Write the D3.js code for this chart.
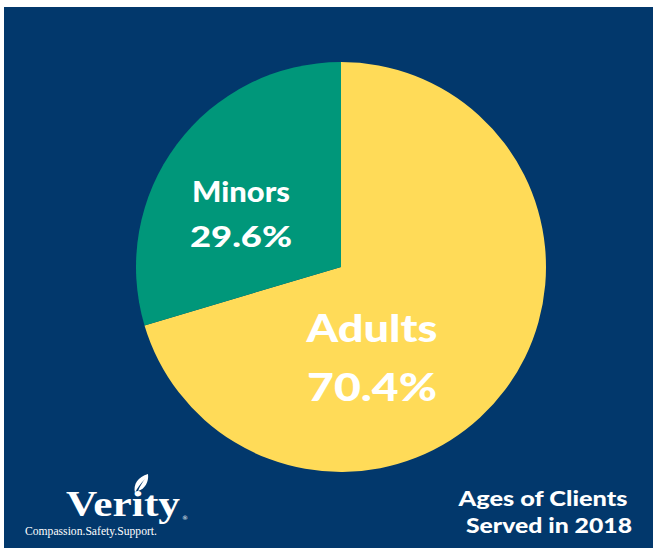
<!DOCTYPE html>
<html lang="en">
<head>
    <meta charset="UTF-8">
    <title>Ages of Clients Served in 2018</title>
    <script src="https://cdnjs.cloudflare.com/ajax/libs/d3/7.8.5/d3.min.js"></script>
    <style>
        html, body { margin: 0; padding: 0; background: #fff; }
        svg { display: block; }
    </style>
</head>
<body>
<svg id="chart" width="654" height="552"></svg>
<script>
    // Data
    const categories = ["Adults", "Minors"];
    const shares = [70.4, 29.6];
    const sliceColors = ["#ffdb58", "#00977a"];
    const titleLines = ["Ages of Clients", "Served in 2018"];

    const width = 654, height = 552;
    const svg = d3.select("#chart");

    // Background panel (thin white frame around)
    svg.append("rect")
        .attr("x", 4).attr("y", 7)
        .attr("width", width - 5).attr("height", height - 11)
        .attr("fill", "#02386c");

    const cx = 341, cy = 267, radius = 205;
    const data = categories.map((c, i) => ({ name: c, value: shares[i], color: sliceColors[i] }));

    const pie = d3.pie().value(d => d.value).sort(null);
    const arc = d3.arc().innerRadius(0).outerRadius(radius);

    const g = svg.append("g").attr("transform", `translate(${cx},${cy})`);
    g.selectAll("path")
        .data(pie(data))
        .join("path")
        .attr("d", arc)
        .attr("fill", d => d.data.color);

    // Slice labels (widths stretched to mimic the rounded display face)
    const labelFont = "'Lato', 'Noto Sans', sans-serif";
    const labelSpec = {
        Adults: { x: 31, y1: 75, y2: 134, size: 38, w1: 131, w2: 130 },
        Minors: { x: -100, y1: -65, y2: -20, size: 29, w1: 98, w2: 102 }
    };
    const labels = g.selectAll("g.label")
        .data(pie(data))
        .join("g")
        .attr("class", "label");
    labels.append("text")
        .attr("x", d => labelSpec[d.data.name].x)
        .attr("y", d => labelSpec[d.data.name].y1)
        .attr("text-anchor", "middle")
        .attr("fill", "#fff")
        .attr("font-family", labelFont)
        .attr("font-weight", 900)
        .attr("font-size", d => labelSpec[d.data.name].size)
        .attr("textLength", d => labelSpec[d.data.name].w1)
        .attr("lengthAdjust", "spacingAndGlyphs")
        .text(d => d.data.name);
    labels.append("text")
        .attr("x", d => labelSpec[d.data.name].x)
        .attr("y", d => labelSpec[d.data.name].y2)
        .attr("text-anchor", "middle")
        .attr("fill", "#fff")
        .attr("font-family", labelFont)
        .attr("font-weight", 900)
        .attr("font-size", d => labelSpec[d.data.name].size)
        .attr("textLength", d => labelSpec[d.data.name].w2)
        .attr("lengthAdjust", "spacingAndGlyphs")
        .text(d => d3.format(".1f")(d.data.value) + "%");

    // Title, bottom right
    const titleX = [543, 549], titleW = [169, 166];
    svg.append("g")
        .selectAll("text")
        .data(titleLines)
        .join("text")
        .attr("x", (d, i) => titleX[i])
        .attr("y", (d, i) => 506 + i * 27)
        .attr("text-anchor", "middle")
        .attr("fill", "#fff")
        .attr("font-family", labelFont)
        .attr("font-weight", 900)
        .attr("font-size", 21)
        .attr("textLength", (d, i) => titleW[i])
        .attr("lengthAdjust", "spacingAndGlyphs")
        .text(d => d);

    // Logo, bottom left
    const logo = svg.append("g");
    logo.append("text")
        .attr("x", 66).attr("y", 516)
        .attr("fill", "#fff")
        .attr("font-family", "'Liberation Serif', 'DejaVu Serif', serif")
        .attr("font-weight", 700)
        .attr("font-size", 36)
        .attr("textLength", 114)
        .attr("lengthAdjust", "spacingAndGlyphs")
        .text("Verity");
    logo.append("text")
        .attr("x", 182).attr("y", 520)
        .attr("fill", "#fff")
        .attr("font-family", "'DejaVu Sans', sans-serif")
        .attr("font-size", 6)
        .text("®");
    // leaf above the t
    logo.append("path")
        .attr("d", "M135,493 C133,484 138,477 148,474 C149,482 145,489 138,491 C140,486 142,483 145,479 C141,483 137,488 135,493 Z")
        .attr("fill", "#fff");
    logo.append("text")
        .attr("x", 25).attr("y", 535)
        .attr("fill", "#fff")
        .attr("font-family", "'Liberation Serif', 'DejaVu Serif', serif")
        .attr("font-size", 12)
        .attr("textLength", 132)
        .attr("lengthAdjust", "spacingAndGlyphs")
        .text("Compassion.Safety.Support.");
</script>
</body>
</html>
